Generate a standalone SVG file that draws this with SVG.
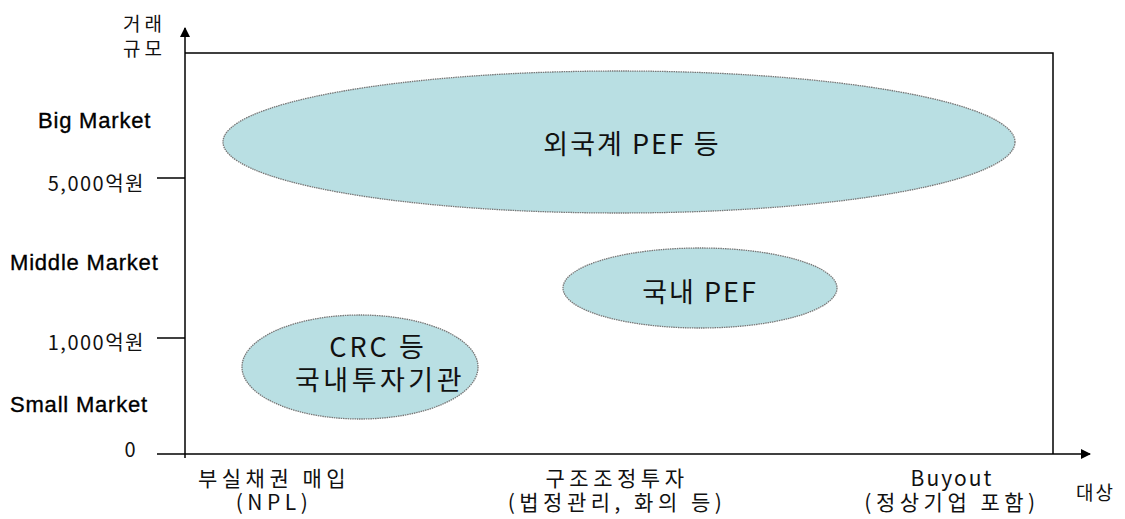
<svg xmlns="http://www.w3.org/2000/svg" width="1125" height="519" viewBox="0 0 1125 519">
<style>
.ax{stroke:#000;stroke-width:1.5;fill:none}
.el{fill:#b9dfe3;stroke:#777;stroke-width:1.3;stroke-dasharray:1.5 0.8}
.k{font-family:"Noto Sans CJK KR","Liberation Sans",sans-serif;fill:#111}
.m{font-family:"Liberation Sans",Arial,sans-serif;font-size:22px;fill:#000;stroke:#000;stroke-width:0.35;letter-spacing:0.8px}
.yl{font-size:20px;letter-spacing:1.5px;text-anchor:end}
.b{font-size:21px;text-anchor:middle;letter-spacing:4.5px}
.in{text-anchor:middle;font-size:27px;letter-spacing:2px}
</style>
<defs>
<marker id="ar" markerWidth="10" markerHeight="10" refX="9" refY="5" orient="auto" markerUnits="userSpaceOnUse">
<path d="M0,0 L10,5 L0,10 z" fill="#000"/>
</marker>
</defs>
<g id="connectors">
<line class="ax" x1="185" y1="458" x2="185" y2="28" marker-end="url(#ar)"/>
<line class="ax" x1="157" y1="454" x2="1090" y2="454" marker-end="url(#ar)"/>
<polyline class="ax" points="185,53 1053,53 1053,454"/>
<line class="ax" x1="157" y1="178" x2="185" y2="178"/>
<line class="ax" x1="157" y1="338" x2="185" y2="338"/>
</g>
<g id="axis-labels">
<text class="k" font-size="19" letter-spacing="4"><tspan x="123" y="31">거래</tspan><tspan x="123" y="56">규모</tspan></text>
<text class="m" x="38" y="128">Big Market</text>
<text class="m" x="10" y="270">Middle Market</text>
<text class="m" x="10" y="412">Small Market</text>
<text class="k yl" x="145" y="191">5,000억원</text>
<text class="k yl" x="145" y="350">1,000억원</text>
<text class="k yl" x="137" y="457">0</text>
<text class="k b"><tspan x="274" y="486">부실채권 매입</tspan><tspan x="274" y="510">(NPL)</tspan></text>
<text class="k b"><tspan x="617" y="486">구조조정투자</tspan><tspan x="617" y="510">(법정관리, 화의 등)</tspan></text>
<text class="k b"><tspan x="952" y="486" letter-spacing="2">Buyout</tspan><tspan x="952" y="510">(정상기업 포함)</tspan></text>
<text class="k" x="1076" y="500" font-size="19" letter-spacing="2">대상</text>
</g>
<g id="node-foreign">
<ellipse class="el" cx="619" cy="142" rx="396" ry="71"/>
<text class="k in" x="632" y="154" letter-spacing="1">외국계 PEF 등</text>
</g>
<g id="node-domestic-pef">
<ellipse class="el" cx="700" cy="288" rx="137" ry="40"/>
<text class="k in" x="700" y="302">국내 PEF</text>
</g>
<g id="node-crc">
<ellipse class="el" cx="360" cy="367" rx="118" ry="52"/>
<text class="k in"><tspan x="378" y="357" letter-spacing="3">CRC 등</tspan><tspan x="380" y="390" letter-spacing="3.5">국내투자기관</tspan></text>
</g>
</svg>
